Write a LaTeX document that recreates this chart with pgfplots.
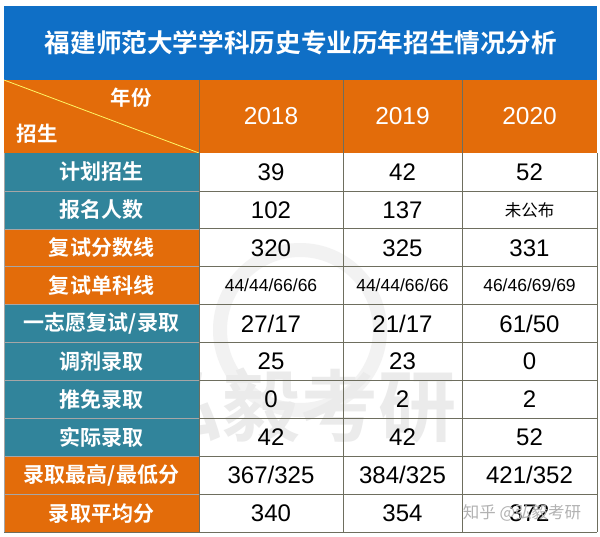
\documentclass[border=0pt]{standalone}
\usepackage{pgfplots}
\pgfplotsset{compat=1.18}
\usepackage{fontspec}
\setmainfont{Liberation Sans}
\newfontfamily\cjk{Noto Sans CJK SC}
\newfontfamily\cjkb{Noto Sans CJK SC Bold}
\definecolor{titleblue}{HTML}{0F6FC6}
\definecolor{hdrorange}{HTML}{E36C0A}
\definecolor{tealc}{HTML}{31849B}
\definecolor{gridc}{HTML}{6E6E5E}
\newcommand{\fs}[1]{\fontsize{#1bp}{#1bp}\selectfont}
\newcommand{\lab}[3]{%
  \fill[#1] (axis cs:4,#2-18.95) rectangle (axis cs:199,#2+18.95);
  \node[text=white] at (axis cs:101.5,#2) {\cjkb\fs{21}#3};}
\newcommand{\vals}[4]{%
  \node[text=black] at (axis cs:271,#1) {#2};
  \node[text=black] at (axis cs:402.5,#1) {#3};
  \node[text=black] at (axis cs:529.5,#1) {#4};}
\begin{document}
\begin{tikzpicture}[x=1bp,y=1bp]
\begin{axis}[hide axis, scale only axis, width=600bp, height=536bp,
  xmin=0, xmax=600, ymin=0, ymax=536, y dir=reverse, clip=false]
% background
\fill[white] (axis cs:0,0) rectangle (axis cs:600,536);
% watermark
\draw[black!5, line width=14bp] (axis cs:300,330) circle[radius=80bp];
\node[text=black!8] at (axis cs:300,405) {\cjkb\fs{78}弘毅考研};
% title
\fill[titleblue] (axis cs:4,6) rectangle (axis cs:597,80);
\node[text=white] at (axis cs:301,43) {\cjkb\fs{25.6}福建师范大学学科历史专业历年招生情况分析};
% header
\fill[hdrorange] (axis cs:4,80) rectangle (axis cs:597,153);
\draw[yellow!60!white, line width=0.8bp] (axis cs:4,80) -- (axis cs:199,153);
\node[text=white] at (axis cs:131,98) {\cjkb\fs{20.5}年份};
\node[text=white] at (axis cs:37,134) {\cjkb\fs{20.5}招生};
\node[text=white] at (axis cs:271,116) {\fs{24.5}2018};
\node[text=white] at (axis cs:402.5,116) {\fs{24.5}2019};
\node[text=white] at (axis cs:529.5,116) {\fs{24.5}2020};
% label cells
\lab{tealc}{171.95}{计划招生}
\lab{tealc}{209.85}{报名人数}
\lab{hdrorange}{247.75}{复试分数线}
\lab{hdrorange}{285.65}{复试单科线}
\lab{tealc}{323.55}{一志愿复试/录取}
\lab{tealc}{361.45}{调剂录取}
\lab{tealc}{399.35}{推免录取}
\lab{tealc}{437.25}{实际录取}
\lab{hdrorange}{475.15}{录取最高/最低分}
\lab{hdrorange}{513.05}{录取平均分}
% grid lines
\draw[gridc, line width=0.7bp]
  (axis cs:199,190.9) -- (axis cs:597,190.9)
  (axis cs:199,228.8) -- (axis cs:597,228.8)
  (axis cs:199,266.7) -- (axis cs:597,266.7)
  (axis cs:199,304.6) -- (axis cs:597,304.6)
  (axis cs:199,342.5) -- (axis cs:597,342.5)
  (axis cs:199,380.4) -- (axis cs:597,380.4)
  (axis cs:199,418.3) -- (axis cs:597,418.3)
  (axis cs:199,456.2) -- (axis cs:597,456.2)
  (axis cs:199,494.1) -- (axis cs:597,494.1)
  (axis cs:199,80) -- (axis cs:199,532)
  (axis cs:343,80) -- (axis cs:343,532)
  (axis cs:462,80) -- (axis cs:462,532)
  (axis cs:597,153) -- (axis cs:597,532)
  (axis cs:4,532) -- (axis cs:597,532);
\draw[black!35, line width=0.5bp]
  (axis cs:4,190.9) -- (axis cs:199,190.9)
  (axis cs:4,228.8) -- (axis cs:199,228.8)
  (axis cs:4,266.7) -- (axis cs:199,266.7)
  (axis cs:4,304.6) -- (axis cs:199,304.6)
  (axis cs:4,342.5) -- (axis cs:199,342.5)
  (axis cs:4,380.4) -- (axis cs:199,380.4)
  (axis cs:4,418.3) -- (axis cs:199,418.3)
  (axis cs:4,456.2) -- (axis cs:199,456.2)
  (axis cs:4,494.1) -- (axis cs:199,494.1)
  (axis cs:4,153) -- (axis cs:4,532);
% values
\vals{171.95}{\fs{24}39}{\fs{24}42}{\fs{24}52}
\vals{209.85}{\fs{24}102}{\fs{24}137}{\cjk\fs{16.5}未公布}
\vals{247.75}{\fs{24}320}{\fs{24}325}{\fs{24}331}
\vals{285.65}{\fs{17.5}44/44/66/66}{\fs{17.5}44/44/66/66}{\fs{17.5}46/46/69/69}
\vals{323.55}{\fs{24}27/17}{\fs{24}21/17}{\fs{24}61/50}
\vals{361.45}{\fs{24}25}{\fs{24}23}{\fs{24}0}
\vals{399.35}{\fs{24}0}{\fs{24}2}{\fs{24}2}
\vals{437.25}{\fs{24}42}{\fs{24}42}{\fs{24}52}
\vals{475.15}{\fs{24}367/325}{\fs{24}384/325}{\fs{24}421/352}
\vals{513.05}{\fs{24}340}{\fs{24}354}{\fs{24}372}
% zhihu watermark
\node[text=black!30] at (axis cs:522,513) {\cjk\fs{16.5}知乎 @弘毅考研};
\end{axis}
\end{tikzpicture}
\end{document}
